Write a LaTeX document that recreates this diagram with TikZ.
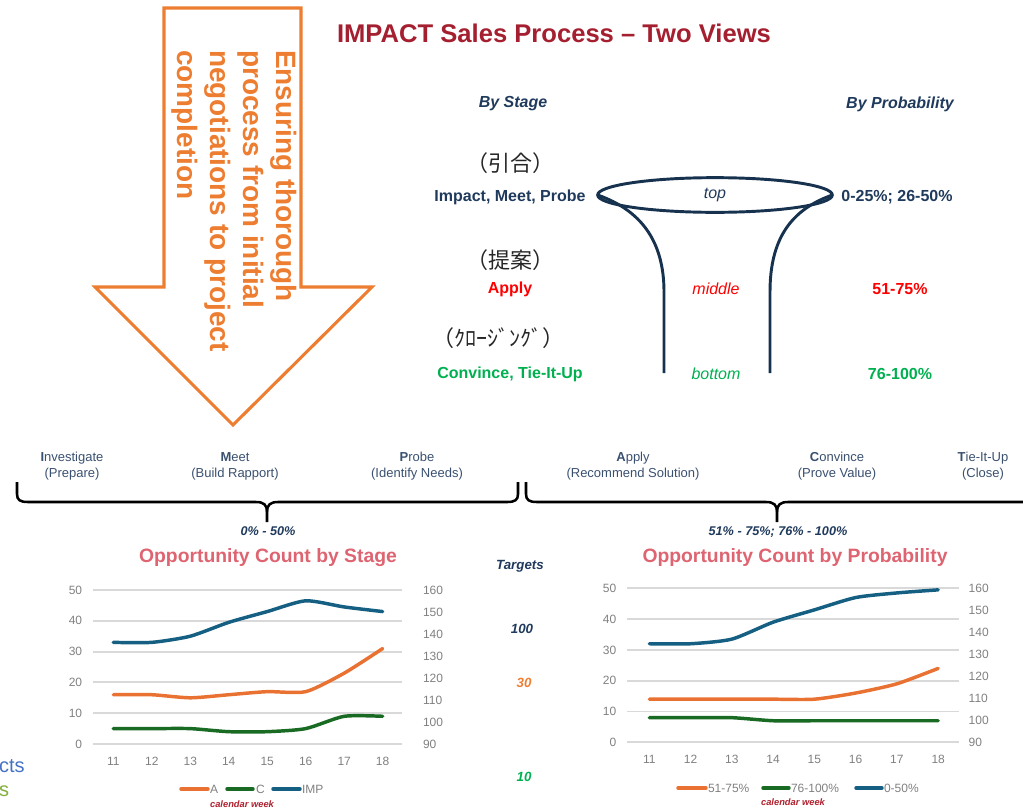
\documentclass[tikz,border=0pt]{standalone}
\usepackage{fontspec}
\setmainfont{Liberation Sans}
\newfontfamily\cjkfont{Noto Sans CJK JP}
\usetikzlibrary{shapes.geometric}

\definecolor{titlered}{HTML}{A41F2F}
\definecolor{navy}{HTML}{1F3A5C}
\definecolor{arroworange}{HTML}{ED7D31}
\definecolor{funnelnavy}{HTML}{17324F}
\definecolor{stagered}{HTML}{FF0000}
\definecolor{stagegreen}{HTML}{00B050}
\definecolor{labelslate}{HTML}{3A5070}
\definecolor{charttitle}{HTML}{DD6470}
\definecolor{gridgrey}{HTML}{D9D9D9}
\definecolor{axisgrey}{HTML}{808080}
\definecolor{seriesorange}{HTML}{E97132}
\definecolor{seriesgreen}{HTML}{196B24}
\definecolor{seriesblue}{HTML}{156082}
\definecolor{weekred}{HTML}{B0202E}
\definecolor{fragblue}{HTML}{4472C4}
\definecolor{fragolive}{HTML}{84B03C}

\tikzset{
  every node/.style={inner sep=0pt, outer sep=0pt},
  headline/.style={font=\fontsize{12}{14}\selectfont\bfseries\itshape, text=navy},
  jplabel/.style={font=\cjkfont\fontsize{16.5}{19}\selectfont, text=black!85},
  stagename/.style={font=\fontsize{12}{14}\selectfont\bfseries},
  funneltag/.style={font=\fontsize{12}{14}\selectfont\itshape},
  funnelline/.style={draw=funnelnavy, line width=2.2pt},
  steplabel/.style={font=\fontsize{9.75}{12}\selectfont, text=labelslate, align=center},
  bracepath/.style={draw=black, line width=1.9pt, line join=round},
  rangelabel/.style={font=\fontsize{9.5}{11}\selectfont\bfseries\itshape, text=navy},
  charthead/.style={font=\fontsize{14.5}{17}\selectfont\bfseries, text=charttitle},
  gridline/.style={draw=gridgrey, line width=1.4pt},
  axislabel/.style={font=\fontsize{9}{11}\selectfont, text=axisgrey},
  legendlabel/.style={font=\fontsize{9}{11}\selectfont, text=axisgrey, anchor=west},
  weeklabel/.style={font=\fontsize{7}{8}\selectfont\bfseries\itshape, text=weekred},
  targetlabel/.style={font=\fontsize{10}{12}\selectfont\bfseries\itshape},
  serieso/.style={draw=seriesorange, line width=2.6pt, line cap=round, line join=round},
  seriesg/.style={draw=seriesgreen, line width=2.6pt, line cap=round, line join=round},
  seriesb/.style={draw=seriesblue, line width=2.6pt, line cap=round, line join=round},
}

\begin{document}
\begin{tikzpicture}[x=0.75pt, y=-0.75pt]
\useasboundingbox (0,0) rectangle (1023,810);
\clip (0,0) rectangle (1023,810);

% ---------- title ----------
\node[font=\fontsize{19.2}{23}\selectfont\bfseries, text=titlered] (title) at (554,33)
  {IMPACT Sales Process – Two Views};

% ---------- big downward arrow ----------
\draw[draw=arroworange, line width=2.3pt, line join=miter]
  (164,8) -- (301,8) -- (301,287) -- (372,287) -- (233,425) -- (95,287) -- (164,287) -- cycle;
\node[rotate=-90, anchor=north west, align=left, text=arroworange,
      font=\fontsize{21}{24.75}\selectfont\bfseries] (arrowtext) at (297,50)
  {Ensuring thorough\\process from initial\\negotiations to project\\completion};

% ---------- funnel views ----------
\node[headline] (bystage) at (513,104) {By Stage};
\node[headline] (byprob) at (900,104) {By Probability};

\node[jplabel] (jptop) at (510,163) {（引合）};
\node[stagename, text=navy] (stagetop) at (510,197) {Impact, Meet, Probe};
\node[jplabel] (jpmid) at (510,260) {（提案）};
\node[stagename, text=stagered] (stagemid) at (510,289) {Apply};
\node[jplabel] (jpbot) at (498,338) {（ｸﾛｰｼﾞﾝｸﾞ）};
\node[stagename, text=stagegreen] (stagebot) at (510,374) {Convince, Tie-It-Up};

\node[draw=funnelnavy, line width=2.2pt, ellipse, minimum width=176pt, minimum height=26pt,
      funneltag, text=navy] (rim) at (715,195) {top};
\node[funneltag, text=stagered] (midtag) at (716,289) {middle};
\node[funneltag, text=stagegreen] (bottag) at (716,374) {bottom};
\draw[funnelline] (rim.west) .. controls (640,210) and (664,240) .. (664,292) -- (664,373);
\draw[funnelline] (rim.east) .. controls (790,210) and (770,240) .. (770,292) -- (770,373);

\node[stagename, text=navy] (probtop) at (897,197) {0-25\%; 26-50\%};
\node[stagename, text=stagered] (probmid) at (900,289) {51-75\%};
\node[stagename, text=stagegreen] (probbot) at (900,374) {76-100\%};

% ---------- stage sequence ----------
\node[steplabel] (investigate) at (72,466) {\textbf{I}nvestigate\\(Prepare)};
\node[steplabel] (meet) at (235,466) {\textbf{M}eet\\(Build Rapport)};
\node[steplabel] (probe) at (417,466) {\textbf{P}robe\\(Identify Needs)};
\node[steplabel] (apply) at (633,466) {\textbf{A}pply\\(Recommend Solution)};
\node[steplabel] (convince) at (837,466) {\textbf{C}onvince\\(Prove Value)};
\node[steplabel] (tieitup) at (983,466) {\textbf{T}ie-It-Up\\(Close)};

\draw[bracepath] (17,482) -- (17,494) .. controls (17,500) and (20,502) .. (28,502) -- (256,502)
  .. controls (264,502) and (267,505) .. (267,512) -- (267,522);
\draw[bracepath] (267,512) .. controls (267,505) and (270,502) .. (278,502) -- (507,502)
  .. controls (515,502) and (518,500) .. (518,494) -- (518,482);
\draw[bracepath] (526,482) -- (526,494) .. controls (526,500) and (529,502) .. (537,502) -- (766,502)
  .. controls (774,502) and (777,505) .. (777,512) -- (777,522);
\draw[bracepath] (777,512) .. controls (777,505) and (780,502) .. (788,502) -- (1040,502);

\node[rangelabel] (rangeA) at (268,531) {0\% - 50\%};
\node[rangelabel] (rangeB) at (778,532) {51\% - 75\%; 76\% - 100\%};

% ---------- chart: count by stage ----------
\node[charthead] (stagechart) at (268,558) {Opportunity Count by Stage};
\begin{scope}[shift={(113.3,744)}, x=28.86pt, y=2.31pt]
  \foreach \v in {0,10,...,50} {
    \draw[gridline] (-0.53,\v) -- (7.5,\v);
    \node[axislabel, anchor=east] at (-0.81,\v) {\v};
  }
  \foreach \r in {90,100,...,160}
    \node[axislabel, anchor=west] at (8.05,{(\r-90)*5/7}) {\r};
  \foreach \k in {11,...,18}
    \node[axislabel] at ({\k-11},-5.5) {\k};
  \draw[seriesb] plot[smooth, tension=0.4] coordinates
    {(0,33) (1,33) (2,35) (3,39.5) (4,43) (5,46.5) (6,44.5) (7,43)};
  \draw[serieso] plot[smooth, tension=0.4] coordinates
    {(0,16) (1,16) (2,15) (3,16) (4,17) (5,17) (6,23) (7,31)};
  \draw[seriesg] plot[smooth, tension=0.4] coordinates
    {(0,5) (1,5) (2,5) (3,4) (4,4) (5,5) (6,9) (7,9)};
\end{scope}
\draw[serieso] (181,789) -- (208,789);
\node[legendlabel] (legA) at (210,789) {A};
\draw[seriesg] (227,789) -- (253,789);
\node[legendlabel] (legC) at (256,789) {C};
\draw[seriesb] (273,789) -- (300,789);
\node[legendlabel] (legIMP) at (302,789) {IMP};
\node[weeklabel] (weekA) at (242,804) {calendar week};

% ---------- targets ----------
\node[targetlabel, text=navy] (targets) at (520,566) {Targets};
\node[targetlabel, text=navy] (target100) at (522,629) {100};
\node[targetlabel, text=arroworange] (target30) at (524,683) {30};
\node[targetlabel, text=stagegreen] (target10) at (524,777) {10};

% ---------- chart: count by probability ----------
\node[charthead] (probchart) at (795,557) {Opportunity Count by Probability};
\begin{scope}[shift={(649.3,742.3)}, x=30.95pt, y=2.31pt]
  \foreach \v in {0,10,...,50} {
    \draw[gridline] (-0.54,\v) -- (7.5,\v);
    \node[axislabel, anchor=east] at (-0.8,\v) {\v};
  }
  \foreach \r in {90,100,...,160}
    \node[axislabel, anchor=west] at (7.74,{(\r-90)*5/7}) {\r};
  \foreach \k in {11,...,18}
    \node[axislabel] at ({\k-11},-5.4) {\k};
  \draw[seriesb] plot[smooth, tension=0.4] coordinates
    {(0,32) (1,32) (2,33.5) (3,39) (4,43) (5,47) (6,48.5) (7,49.5)};
  \draw[serieso] plot[smooth, tension=0.4] coordinates
    {(0,14) (1,14) (2,14) (3,14) (4,14) (5,16) (6,19) (7,24)};
  \draw[seriesg] plot[smooth, tension=0.4] coordinates
    {(0,8) (1,8) (2,8) (3,7) (4,7) (5,7) (6,7) (7,7)};
\end{scope}
\draw[serieso] (678,788) -- (706,788);
\node[legendlabel] (leg51) at (708,788) {51-75\%};
\draw[seriesg] (763,788) -- (789,788);
\node[legendlabel] (leg76) at (791,788) {76-100\%};
\draw[seriesb] (856,788) -- (882,788);
\node[legendlabel] (leg0) at (884,788) {0-50\%};
\node[weeklabel] (weekB) at (793,802) {calendar week};

% ---------- text cut at the left edge ----------
\node[anchor=base west, text=fragblue, font=\fontsize{15}{18}\selectfont] (fragA) at (-1,772) {cts};
\node[anchor=base west, text=fragolive, font=\fontsize{15}{18}\selectfont] (fragB) at (-1,796) {s};
\end{tikzpicture}
\end{document}
